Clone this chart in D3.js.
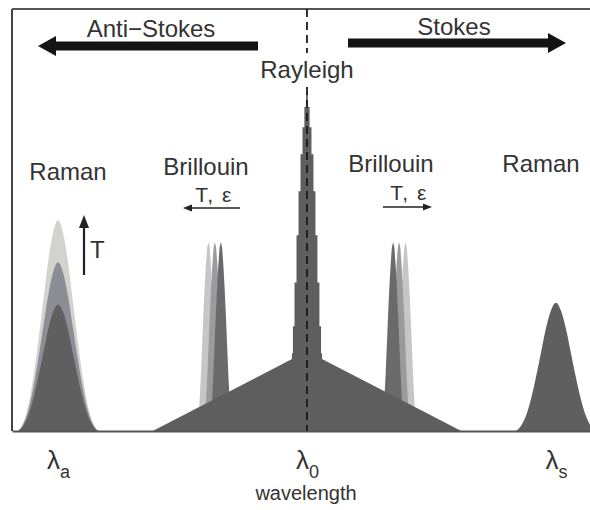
<!DOCTYPE html>
<html>
<head>
<meta charset="utf-8">
<script src="https://cdn.jsdelivr.net/npm/d3@7"></script>
<style>
  body { margin: 0; background: #fff; }
  text { font-family: "Liberation Sans", Arial, sans-serif; fill: #333; }
</style>
</head>
<body>
<svg id="chart" width="590" height="510"></svg>
<script>
// Wavelength is an offset from the pump line λ0 (arbitrary units); intensity is relative.
const tickValues = [-100, 0, 100];
const tickSubscripts = ["a", "0", "s"];

// Raman lines: anti-Stokes side at three temperatures, Stokes side at one
const ramanCenters = [-100, -100, -100, 100];
const ramanHeights = [62.5, 50, 37.5, 38];
const ramanTones = ["light", "mid", "dark", "dark"];
// half profile of a Raman line: offset from its center, fraction of its peak height
const ramanOffsets = [0, 2, 4, 6, 8, 10, 12, 14, 16];
const ramanProfile = [1, 0.94, 0.8, 0.61, 0.42, 0.25, 0.12, 0.04, 0];

// Brillouin lines, shifted with temperature / strain
const brillouinCenters = [-39.6, -37, -34.6, 39.6, 37, 34.6];
const brillouinHeights = [56, 56, 56, 56, 56, 56];
const brillouinTones = ["light", "mid", "dark", "light", "mid", "dark"];
const brillouinOffsets = [0, 0.5, 1.0, 1.5, 2.0, 2.5, 3.0, 3.5, 3.8, 3.9];
const brillouinProfile = [1, 0.97, 0.88, 0.76, 0.62, 0.46, 0.3, 0.17, 0.1, 0];

// Rayleigh line: narrow central peak on a broad triangular pedestal
const rayleighOffsets = [0, 0.7, 1.4, 2.2, 3.0, 3.8, 4.6, 5.4, 5.9, 6.2];
const rayleighValues = [100, 96, 90, 82, 71, 58, 44, 31, 23, 0];
const pedestalX = [-62, 0, 62];
const pedestalY = [0, 23.6, 0];

const ramanFill = { light: "#d3d3cd", mid: "#8d8d95", dark: "#5f5f5f" };
const brillouinFill = { light: "#c6c6c6", mid: "#9a9a9f", dark: "#6a6a6a" };
const baseFill = "#5e5e5e";

const svg = d3.select("#chart");
const x = d3.scaleLinear().domain([-118.5, 114.5]).range([12, 592]);
const y = d3.scaleLinear().domain([0, 125]).range([431, 9]);

const area = d3.area()
  .x(d => x(d[0]))
  .y0(y(0))
  .y1(d => y(d[1]));

// symmetric peak outline from a half profile
function peakPoints(center, offsets, values) {
  const left = offsets.slice(1).map((o, i) => [center - o, values[i + 1]]).reverse();
  const right = offsets.map((o, i) => [center + o, values[i]]);
  return left.concat(right);
}

// Raman peaks
ramanCenters.forEach((c, i) => {
  const pts = peakPoints(c, ramanOffsets, ramanProfile.map(p => p * ramanHeights[i]));
  svg.append("path")
    .attr("d", area.curve(d3.curveMonotoneX)(pts))
    .attr("fill", ramanFill[ramanTones[i]]);
});

// Brillouin peaks
brillouinCenters.forEach((c, i) => {
  const pts = peakPoints(c, brillouinOffsets, brillouinProfile.map(p => p * brillouinHeights[i]));
  svg.append("path")
    .attr("d", area.curve(d3.curveLinear)(pts))
    .attr("fill", brillouinFill[brillouinTones[i]]);
});

// Rayleigh pedestal and peak
svg.append("path")
  .attr("d", area.curve(d3.curveLinear)(pedestalX.map((v, i) => [v, pedestalY[i]])))
  .attr("fill", baseFill);
svg.append("path")
  .attr("d", area.curve(d3.curveStep)(peakPoints(0, rayleighOffsets, rayleighValues)))
  .attr("fill", baseFill);

// frame: left and top edges
svg.append("line")
  .attr("x1", x(-118.5)).attr("x2", x(-118.5))
  .attr("y1", y(125)).attr("y2", y(0))
  .attr("stroke", "#444").attr("stroke-width", 2);
svg.append("line")
  .attr("x1", x(-118.5)).attr("x2", 590)
  .attr("y1", y(125)).attr("y2", y(125))
  .attr("stroke", "#555").attr("stroke-width", 2);

// wavelength axis
const axis = svg.append("g")
  .attr("transform", `translate(0,${y(0)})`)
  .call(d3.axisBottom(x).tickValues(tickValues).tickSize(0).tickSizeOuter(0).tickFormat(""));
axis.select(".domain").attr("stroke", "#555").attr("stroke-width", 2);
axis.selectAll(".tick").each(function (d, i) {
  const t = d3.select(this).append("text")
    .attr("y", 38)
    .attr("text-anchor", "middle")
    .style("font-size", "26px")
    .style("fill", "#333");
  t.append("tspan").text("λ");
  t.append("tspan").attr("dy", 9).style("font-size", "18px").text(tickSubscripts[i]);
});
svg.append("text")
  .attr("x", x(0) - 1).attr("y", 500)
  .attr("text-anchor", "middle")
  .style("font-size", "20px")
  .text("wavelength");

// dashed centre line at λ0
svg.append("line")
  .attr("x1", x(0)).attr("x2", x(0))
  .attr("y1", y(125)).attr("y2", y(0))
  .attr("stroke", "#1a1a1a").attr("stroke-width", 1.8)
  .attr("stroke-dasharray", "8,5");

// Rayleigh label on a white patch that breaks the centre line
const rg = svg.append("g");
const rl = rg.append("text")
  .attr("x", x(0)).attr("y", 78)
  .attr("text-anchor", "middle")
  .style("font-size", "24px")
  .text("Rayleigh");
const bb = rl.node().getBBox();
rg.insert("rect", ":first-child")
  .attr("x", bb.x - 2).attr("y", bb.y - 3)
  .attr("width", bb.width + 4).attr("height", bb.height + 6)
  .attr("fill", "#fff");

// broad direction arrows
function bigArrow(x0, x1, yc) {
  const dir = Math.sign(x1 - x0);
  const head = 18, half = 4.5, hh = 10;
  const xb = x1 - dir * head;
  const p = d3.path();
  p.moveTo(x0, yc - half);
  p.lineTo(xb, yc - half);
  p.lineTo(xb, yc - hh);
  p.lineTo(x1, yc);
  p.lineTo(xb, yc + hh);
  p.lineTo(xb, yc + half);
  p.lineTo(x0, yc + half);
  p.closePath();
  svg.append("path").attr("d", p.toString()).attr("fill", "#141414");
}
bigArrow(258, 38, 46);
bigArrow(348, 566, 43);

function smallArrow(x0, y0, x1, y1, width, head, hw) {
  const ang = Math.atan2(y1 - y0, x1 - x0);
  const bx = x1 - head * Math.cos(ang), by = y1 - head * Math.sin(ang);
  svg.append("line")
    .attr("x1", x0).attr("y1", y0).attr("x2", bx).attr("y2", by)
    .attr("stroke", "#222").attr("stroke-width", width);
  const px = -Math.sin(ang) * hw, py = Math.cos(ang) * hw;
  svg.append("path")
    .attr("d", `M${x1},${y1}L${bx + px},${by + py}L${bx - px},${by - py}Z`)
    .attr("fill", "#222");
}
smallArrow(240, 208, 183, 208, 1.3, 9, 3.5);
smallArrow(383, 207, 432, 207, 1.3, 9, 3.5);
smallArrow(84, 275, 84, 215, 2.2, 13, 5);

// labels
const labels = [
  { t: "Anti\u2212Stokes", x: 151, y: 37, s: 24, ls: 0 },
  { t: "Stokes", x: 454, y: 35, s: 24, ls: 0 },
  { t: "Raman", x: 68, y: 180, s: 24, ls: 0 },
  { t: "Brillouin", x: 206, y: 175, s: 24, ls: 0 },
  { t: "T, ε", x: 214, y: 202, s: 21, ls: 1.5 },
  { t: "Brillouin", x: 391, y: 172, s: 24, ls: 0 },
  { t: "T, ε", x: 409, y: 200, s: 21, ls: 1.5 },
  { t: "Raman", x: 541, y: 172, s: 24, ls: 0 },
];
labels.forEach(l => {
  svg.append("text")
    .attr("x", l.x).attr("y", l.y)
    .attr("text-anchor", "middle")
    .style("font-size", l.s + "px")
    .style("letter-spacing", l.ls + "px")
    .text(l.t);
});
svg.append("text")
  .attr("x", 90).attr("y", 258)
  .style("font-size", "24px")
  .text("T");
</script>
</body>
</html>
